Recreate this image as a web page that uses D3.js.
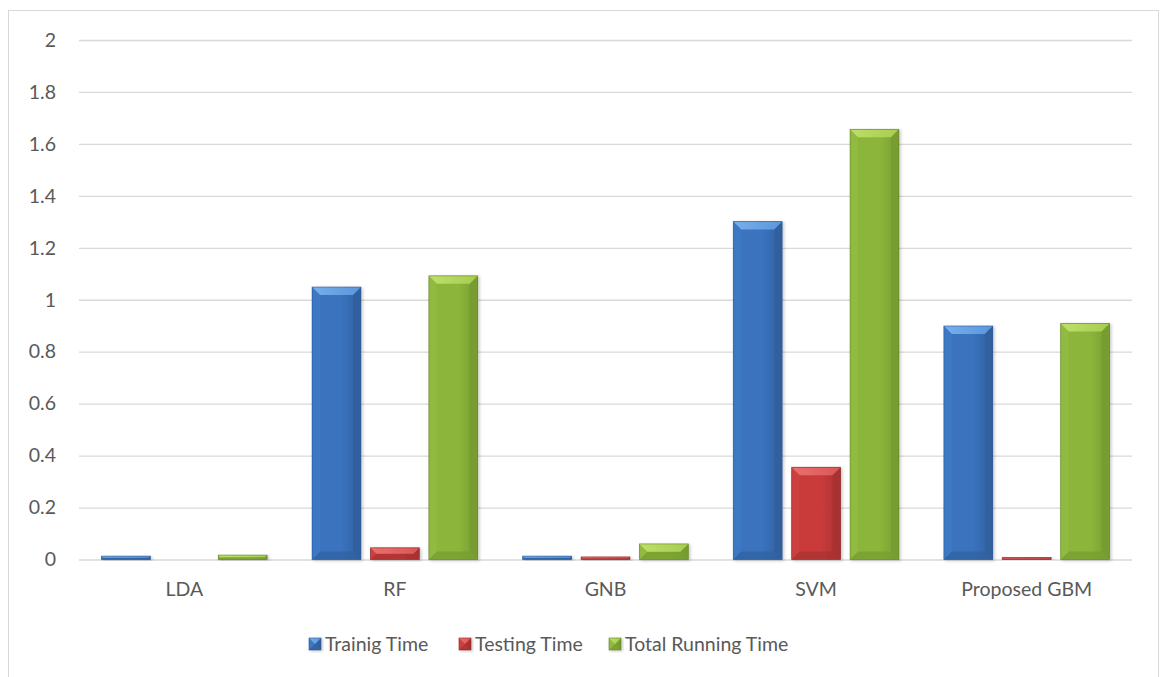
<!DOCTYPE html>
<html>
<head>
<meta charset="utf-8">
<script src="https://cdn.jsdelivr.net/npm/d3@7"></script>
<style>
  html, body { margin: 0; padding: 0; background: #fff; }
  svg text { font-family: Lato, "Open Sans", sans-serif; fill: #595959; }
</style>
</head>
<body>
<svg id="chart" width="1161" height="677"></svg>
<script>
// Running times (seconds) per classifier
const categories = ["LDA", "RF", "GNB", "SVM", "Proposed GBM"];
const seriesNames = ["Trainig Time", "Testing Time", "Total Running Time"];
const trainingTime = [0.013, 1.049, 0.013, 1.301, 0.899];
const testingTime  = [0.0,   0.045, 0.010, 0.355, 0.008];
const totalTime    = [0.017, 1.092, 0.060, 1.656, 0.909];
const yTicks = [0, 0.2, 0.4, 0.6, 0.8, 1, 1.2, 1.4, 1.6, 1.8, 2];

const seriesValues = [trainingTime, testingTime, totalTime];
const palette = [
  { body: "#3a73be", light: "#5a97dc", lighter: "#78aeea", side: "#3c78c4", dark: "#30619f", edge: "#2a5290" },
  { body: "#c93b3b", light: "#dc5656", lighter: "#ea7070", side: "#cc4040", dark: "#a83232", edge: "#8f2626" },
  { body: "#8cb63b", light: "#a6cd50", lighter: "#bddf6a", side: "#90ba40", dark: "#769c30", edge: "#5f7f24" }
];
const fontSize = 19.5;

const svg = d3.select("#chart");

// outer frame
svg.append("rect")
  .attr("x", 8.5).attr("y", 10.5)
  .attr("width", 1150).attr("height", 680)
  .attr("fill", "none").attr("stroke", "#d9d9d9").attr("stroke-width", 1);

const plot = { left: 79, right: 1132, top: 40, bottom: 559.5 };

const x = d3.scaleBand().domain(categories).range([plot.left, plot.right]).padding(0);
const xs = d3.scaleBand().domain(d3.range(seriesNames.length))
  .range([22.5, x.bandwidth() - 22.5]).paddingInner(0.164).paddingOuter(0);
const y = d3.scaleLinear().domain([0, 2]).range([plot.bottom, plot.top]);

const defs = svg.append("defs");
const shadow = defs.append("filter").attr("id", "shadow")
  .attr("x", "-20%").attr("y", "-20%").attr("width", "140%").attr("height", "140%");
shadow.append("feDropShadow").attr("dx", 1.5).attr("dy", 1).attr("stdDeviation", 1.5)
  .attr("flood-color", "#000").attr("flood-opacity", 0.22);

palette.forEach((c, i) => {
  const g = defs.append("linearGradient").attr("id", "body" + i)
    .attr("x1", 0).attr("x2", 1).attr("y1", 0).attr("y2", 0);
  g.append("stop").attr("offset", "0%").attr("stop-color", c.body);
  g.append("stop").attr("offset", "60%").attr("stop-color", c.body);
  g.append("stop").attr("offset", "100%").attr("stop-color", c.dark);
  const t = defs.append("linearGradient").attr("id", "top" + i)
    .attr("x1", 0).attr("x2", 1).attr("y1", 0).attr("y2", 0);
  t.append("stop").attr("offset", "0%").attr("stop-color", c.lighter);
  t.append("stop").attr("offset", "100%").attr("stop-color", c.light);
});

// gridlines and value labels
const yAxis = d3.axisLeft(y).tickValues(yTicks).tickSize(-(plot.right - plot.left))
  .tickFormat(d3.format("~g")).tickPadding(23);
const gy = svg.append("g").attr("transform", `translate(${plot.left},0)`).call(yAxis);
gy.select(".domain").remove();
gy.selectAll(".tick line").attr("stroke", "#d9d9d9").attr("stroke-width", 1.3);
gy.selectAll(".tick text").attr("font-size", fontSize).style("fill", "#595959");

// bevelled bar
function bevelBar(g, bx, by, w, h, i) {
  const c = palette[i];
  if (h <= 0) return;
  const b = Math.min(8, h / 2, w / 2);
  const bg = g.append("g").attr("filter", "url(#shadow)");
  bg.append("rect").attr("x", bx).attr("y", by).attr("width", w).attr("height", h)
    .attr("fill", `url(#body${i})`);
  // left facet
  bg.append("polygon")
    .attr("points", [[bx, by], [bx + b, by + b], [bx + b, by + h - b], [bx, by + h]].join(" "))
    .attr("fill", c.side);
  // right facet
  bg.append("polygon")
    .attr("points", [[bx + w, by], [bx + w - b, by + b], [bx + w - b, by + h - b], [bx + w, by + h]].join(" "))
    .attr("fill", c.dark);
  // bottom facet
  bg.append("polygon")
    .attr("points", [[bx, by + h], [bx + b, by + h - b], [bx + w - b, by + h - b], [bx + w, by + h]].join(" "))
    .attr("fill", c.dark).attr("opacity", 0.7);
  // top facet
  bg.append("polygon")
    .attr("points", [[bx, by], [bx + w, by], [bx + w - b, by + b], [bx + b, by + b]].join(" "))
    .attr("fill", `url(#top${i})`);
  bg.append("rect").attr("x", bx).attr("y", by).attr("width", w).attr("height", h)
    .attr("fill", "none").attr("stroke", c.edge).attr("stroke-width", 0.8).attr("opacity", 0.7);
}

const bars = svg.append("g");
categories.forEach((cat, ci) => {
  seriesValues.forEach((vals, si) => {
    const v = vals[ci];
    const bx = x(cat) + xs(si);
    const by = y(v);
    bevelBar(bars, bx, by, xs.bandwidth(), y(0) - by, si);
  });
});

// category labels
const xAxis = d3.axisBottom(x).tickSize(0).tickPadding(23);
const gx = svg.append("g").attr("transform", `translate(0,${plot.bottom})`).call(xAxis);
gx.select(".domain").remove();
gx.selectAll(".tick text").attr("font-size", fontSize).style("fill", "#595959");

// legend
const legendItems = [
  { name: seriesNames[0], x: 309 },
  { name: seriesNames[1], x: 459 },
  { name: seriesNames[2], x: 609 }
];
const lg = svg.append("g");
legendItems.forEach((it, i) => {
  const sq = 12;
  const ly = 638;
  bevelBar(lg, it.x, ly, sq, sq, i);
  lg.append("text").attr("x", it.x + sq + 4).attr("y", ly + sq / 2)
    .attr("dy", "0.35em").attr("font-size", fontSize).text(it.name);
});
</script>
</body>
</html>
